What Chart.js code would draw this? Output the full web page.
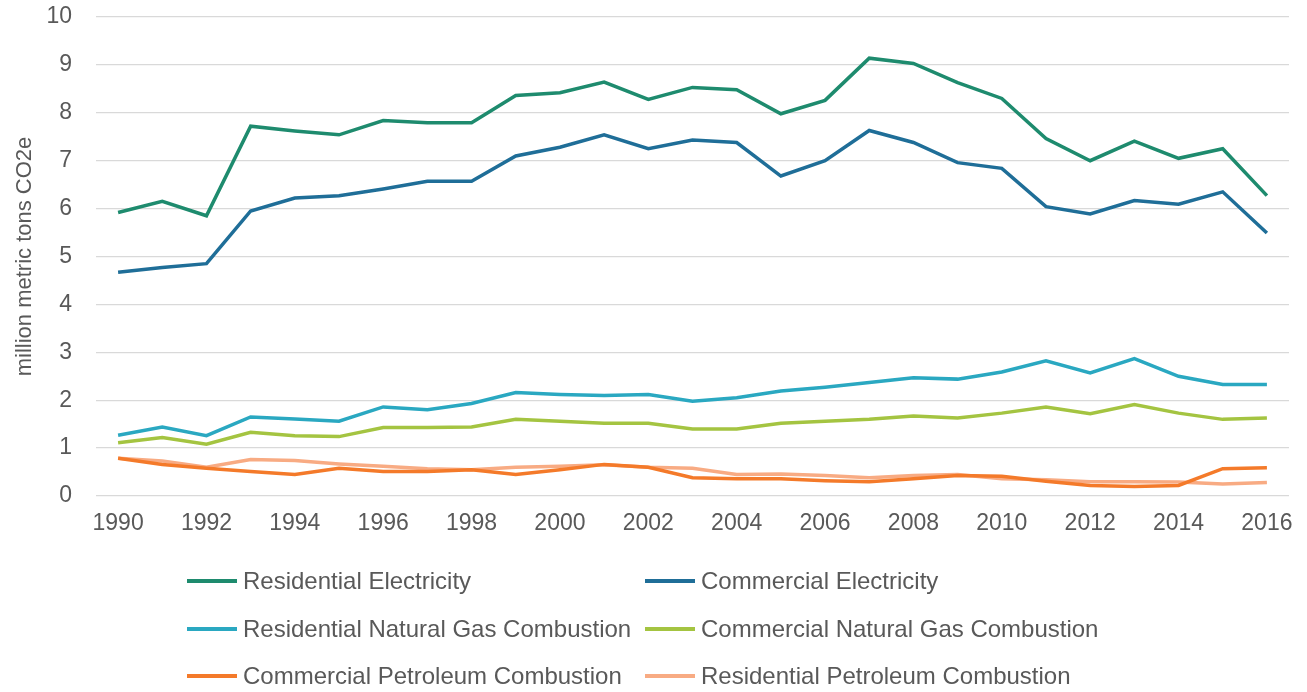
<!DOCTYPE html>
<html>
<head>
<meta charset="utf-8">
<script src="https://cdn.jsdelivr.net/npm/chart.js@4/dist/chart.umd.min.js"></script>
<style>
  body { margin: 0; background: #fff; }
  #wrap { position: relative; width: 1307px; height: 692px; }
  #legend { position: absolute; left: 0; top: 0; width: 1307px; height: 692px; pointer-events: none;
            font-family: "Liberation Sans", Arial, sans-serif; font-size: 24px; color: #595959; }
  .item { position: absolute; display: flex; align-items: center; white-space: nowrap; height: 30px; }
  .swatch { width: 50px; height: 4px; margin-right: 6px; }
</style>
</head>
<body>
<div id="wrap">
  <canvas id="chart"></canvas>
  <div id="legend"></div>
</div>
<script>
const years = ['1990','1991','1992','1993','1994','1995','1996','1997','1998','1999','2000','2001','2002',
  '2003','2004','2005','2006','2007','2008','2009','2010','2011','2012','2013','2014','2015','2016'];
const tickYears = ['1990','1992','1994','1996','1998','2000','2002','2004','2006','2008','2010','2012','2014','2016'];

const seriesNames = ['Residential Electricity', 'Commercial Electricity', 'Residential Natural Gas Combustion',
  'Commercial Natural Gas Combustion', 'Commercial Petroleum Combustion', 'Residential Petroleum Combustion'];
const seriesColors = ['#1e8b6e', '#1f6e98', '#2aa8c1', '#a4c441', '#f47a2a', '#f8ab83'];

const resElec = [5.92,6.15,5.85,7.72,7.62,7.54,7.84,7.79,7.79,8.36,8.42,8.64,8.28,8.53,8.48,7.98,8.26,9.14,9.03,8.63,8.30,7.46,7.00,7.41,7.05,7.25,6.27];
const comElec = [4.67,4.77,4.85,5.95,6.22,6.27,6.41,6.57,6.57,7.10,7.28,7.54,7.25,7.43,7.38,6.68,7.00,7.63,7.38,6.96,6.84,6.04,5.89,6.17,6.09,6.35,5.49];
const resGas = [1.27,1.44,1.26,1.65,1.61,1.56,1.86,1.80,1.93,2.16,2.12,2.10,2.12,1.98,2.05,2.19,2.27,2.37,2.47,2.44,2.59,2.82,2.57,2.87,2.50,2.33,2.33];
const comGas = [1.11,1.22,1.08,1.33,1.26,1.24,1.43,1.43,1.44,1.60,1.56,1.52,1.52,1.40,1.40,1.52,1.56,1.60,1.67,1.63,1.73,1.86,1.72,1.91,1.73,1.60,1.63];
const comPet = [0.79,0.66,0.58,0.51,0.45,0.58,0.51,0.51,0.55,0.45,0.55,0.66,0.60,0.38,0.36,0.36,0.32,0.30,0.36,0.43,0.41,0.31,0.22,0.20,0.22,0.57,0.59];
const resPet = [0.79,0.73,0.60,0.76,0.74,0.67,0.62,0.57,0.55,0.60,0.62,0.65,0.60,0.58,0.45,0.46,0.43,0.38,0.43,0.45,0.36,0.34,0.30,0.30,0.29,0.25,0.28];

const seriesData = [resElec, comElec, resGas, comGas, comPet, resPet];
const textColor = '#595959';
const fontFamily = '"Liberation Sans", Arial, sans-serif';

const ctx = document.getElementById('chart').getContext('2d');
const myChart = new Chart(ctx, {
  type: 'line',
  data: {
    labels: years,
    datasets: seriesNames.map((name, i) => ({
      label: name,
      data: seriesData[i],
      borderColor: seriesColors[i],
      backgroundColor: seriesColors[i],
      borderWidth: 3.5,
      pointRadius: 0,
      tension: 0,
      fill: false
    }))
  },
  options: {
    responsive: true,
    maintainAspectRatio: false,
    animation: false,
    layout: { padding: { top: 17, right: 18, bottom: 146, left: 0 } },
    plugins: {
      legend: { display: false },
      tooltip: { enabled: false }
    },
    scales: {
      x: {
        offset: true,
        grid: { display: false, drawTicks: false },
        border: { display: false },
        ticks: {
          autoSkip: false,
          maxRotation: 0,
          padding: 14,
          color: textColor,
          font: { family: fontFamily, size: 23 },
          callback: function (value, index) {
            const lbl = this.getLabelForValue(value);
            return tickYears.includes(lbl) ? lbl : '';
          }
        },
        afterFit: (scale) => { scale.height = 50; }
      },
      y: {
        min: 0,
        max: 10,
        grid: { color: '#d9d9d9', lineWidth: 1.3, drawTicks: false },
        border: { display: false },
        ticks: {
          stepSize: 1,
          padding: 24,
          color: textColor,
          font: { family: fontFamily, size: 23 }
        },
        title: {
          display: true,
          text: 'million metric tons CO2e',
          color: textColor,
          font: { family: fontFamily, size: 22 },
          padding: { top: 12, bottom: 0 }
        },
        afterFit: (scale) => {
          scale.width = 96;
          // keep only the label overhang, not the tick padding, above and below
          scale.paddingTop = 14;
          scale.paddingBottom = 14;
        }
      }
    }
  }
});

// legend in two columns, three rows, like the reference
const legendEl = document.getElementById('legend');
const colX = [187, 645];
const rowY = [581, 629, 676];
myChart.data.datasets.forEach((ds, i) => {
  const item = document.createElement('div');
  item.className = 'item';
  item.style.left = colX[i % 2] + 'px';
  item.style.top = (rowY[Math.floor(i / 2)] - 15) + 'px';
  const sw = document.createElement('span');
  sw.className = 'swatch';
  sw.style.background = ds.borderColor;
  const txt = document.createElement('span');
  txt.textContent = ds.label;
  item.appendChild(sw);
  item.appendChild(txt);
  legendEl.appendChild(item);
});
</script>
</body>
</html>
